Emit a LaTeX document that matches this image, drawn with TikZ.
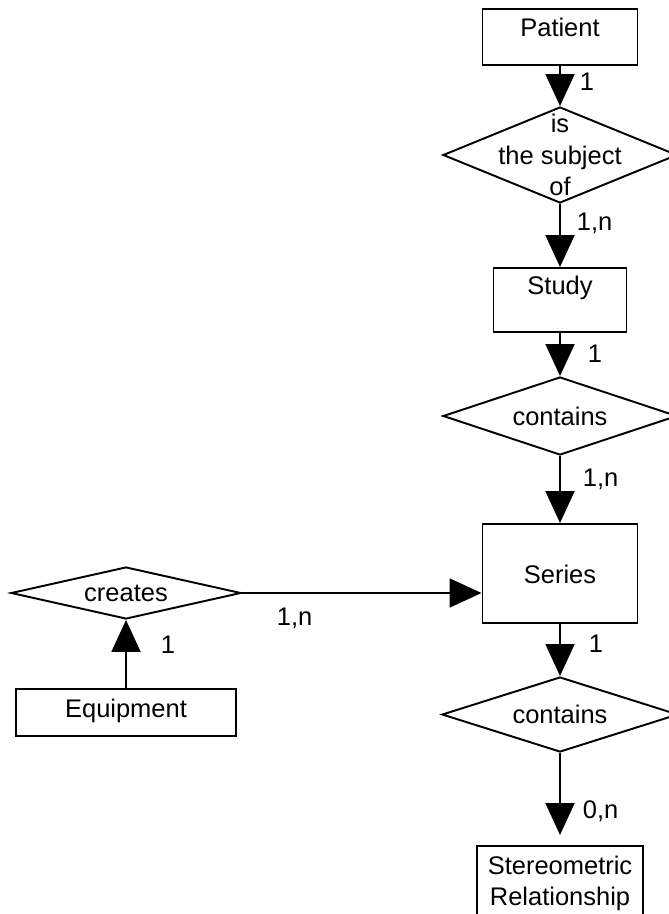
\documentclass[tikz,border=0pt]{standalone}
\usepackage{fontspec}
\setmainfont{Liberation Sans}
\usetikzlibrary{shapes.geometric,arrows.meta}

\begin{document}
\begin{tikzpicture}[font=\fontsize{14.5}{17.9}\selectfont, line width=1.1pt,
  >={Triangle[width=0.58cm,length=0.64cm]}]
\tikzstyle{ent}=[draw, rectangle, inner sep=0pt, anchor=base]
\tikzstyle{rel}=[draw, diamond, inner sep=0pt]
\tikzstyle{card}=[inner sep=0pt]
\useasboundingbox (0,0) rectangle (13.36,-18.28);

\node[ent, minimum width=3.10cm, text height=0.56cm, text depth=0.56cm] (Pat) at (11.20,-0.74) {Patient};
\node[rel, minimum width=4.68cm, minimum height=1.92cm] (D1) at (11.20,-3.10) {};
\node[align=center, inner sep=0pt] (D1txt) at (D1) {is\\the subject\\of};

\node[ent, minimum width=2.66cm, text height=0.54cm, text depth=0.74cm] (Stu) at (11.20,-5.90) {Study};
\node[rel, minimum width=4.68cm, minimum height=1.56cm, shape aspect=3] (D2) at (11.20,-8.32) {contains};

\node[ent, minimum width=3.10cm, text height=1.18cm, text depth=0.80cm] (Ser) at (11.20,-11.66) {Series};
\node[rel, minimum width=4.72cm, minimum height=1.50cm, shape aspect=3.1] (D3) at (11.20,-14.29) {contains};

\node[draw, align=center, inner xsep=0pt, inner ysep=0.2cm, minimum width=3.32cm, anchor=north] (Ste) at (11.20,-16.90) {Stereometric\\Relationship};

\node[rel, minimum width=4.60cm, minimum height=1.04cm, shape aspect=4.4] (Cr) at (2.52,-11.86) {creates};
\node[ent, minimum width=4.40cm, text height=0.56cm, text depth=0.38cm] (Eq) at (2.52,-14.34) {Equipment};

\draw[->] (Pat) -- node[card, pos=0.4, right=0.38cm]{1} (D1);
\draw[->] (D1) -- node[card, pos=0.3, right=0.32cm]{1,n} (Stu);
\draw[->] (Stu) -- node[card, pos=0.49, right=0.54cm]{1} (D2);
\draw[->] (D2) -- node[card, pos=0.35, right=0.44cm]{1,n} (Ser);
\draw[->] (Ser) -- node[card, pos=0.37, right=0.56cm]{1} (D3);
\draw[->, shorten >=0.2cm] (D3) -- node[card, pos=0.63, right=0.44cm]{0,n} (Ste);

\draw[->] (Eq) -- node[card, pos=0.63, right=0.68cm]{1} (Cr);
\draw[->] (Cr.east) -- node[card, pos=0.22, below=0.28cm]{1,n} (Cr.east -| Ser.west);
\end{tikzpicture}
\end{document}
